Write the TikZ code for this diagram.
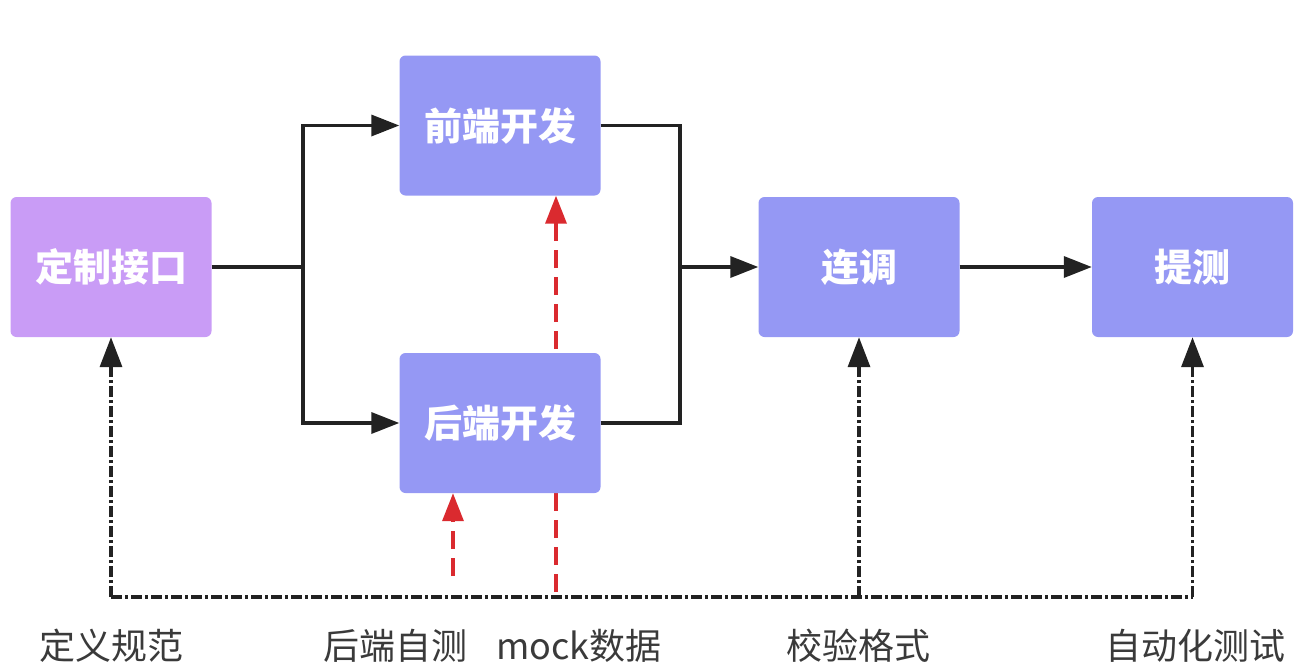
\documentclass[tikz,border=0pt]{standalone}
\usepackage{fontspec}
\setmainfont{Noto Sans CJK SC}
\usetikzlibrary{arrows.meta,backgrounds}
\definecolor{boxblue}{HTML}{9598F4}
\definecolor{boxpurple}{HTML}{C99CF6}
\definecolor{linegray}{HTML}{222222}
\definecolor{redline}{HTML}{DA2A2F}
\definecolor{labelgray}{HTML}{3A3A3A}
\begin{document}
\begin{tikzpicture}[x=1pt,y=-1pt,
  stepbox/.style={rectangle,rounded corners=6pt,minimum width=201pt,minimum height=140pt,
    inner sep=0pt,text=white,fill=boxblue,font=\fontsize{38}{42}\selectfont\bfseries},
  flow/.style={line width=3.5pt,draw=linegray,line join=miter},
  flowarrow/.style={flow,-{Triangle[length=28pt,width=21pt]}},
  redarrow/.style={line width=3.5pt,draw=redline,dash pattern=on 18pt off 9pt,
    -{Triangle[length=28pt,width=21pt]}},
  dd/.style={line width=3.5pt,draw=linegray,dash pattern=on 11pt off 3pt on 3pt off 3pt},
  ddarrow/.style={dd,-{Triangle[length=30pt,width=22pt]}},
  lab/.style={text=labelgray,font=\fontsize{36}{40}\selectfont,inner sep=0pt}
]
\useasboundingbox (0,0) rectangle (1300,667);

\node[stepbox,fill=boxpurple] (dj) at (111,267) {定制接口};
\node[stepbox] (fe) at (500,125.5) {前端开发};
\node[stepbox] (be) at (500,423) {后端开发};
\node[stepbox] (lt) at (859,267) {连调};
\node[stepbox] (tc) at (1192.5,267) {提测};

\coordinate (split) at (303,267);
\coordinate (join) at (680,267);
\draw[flow] (dj.east) -- (split);
\draw[flowarrow] (split) |- (fe.west);
\draw[flowarrow] (split) |- (be.west);
\draw[flow] (fe.east) -| (join);
\draw[flow] (be.east) -| (join);
\draw[flowarrow] (join) -- (lt.west);
\draw[flowarrow] (lt.east) -- (tc.west);

\coordinate (mockfoot) at (556,592);
\coordinate (selffoot) at (453,576);
\begin{scope}[on background layer]
\draw[redarrow] (mockfoot) -- (mockfoot |- fe.south);
\end{scope}
\draw[redarrow] (selffoot) -- (selffoot |- be.south);

\coordinate (baseL) at (111,597);
\coordinate (baseM) at (859,597);
\coordinate (baseR) at (1192.5,597);
\draw[dd] (baseL) -- (baseR);
\draw[ddarrow] (baseL) -- (dj.south);
\draw[ddarrow] (baseM) -- (lt.south);
\draw[ddarrow] (baseR) -- (tc.south);

\node[lab] (l1) at (111,646) {定义规范};
\node[lab] (l2) at (395,646) {后端自测};
\node[lab] (l3) at (579,646) {mock数据};
\node[lab] (l4) at (858,646) {校验格式};
\node[lab] (l5) at (1195,646) {自动化测试};
\end{tikzpicture}
\end{document}
